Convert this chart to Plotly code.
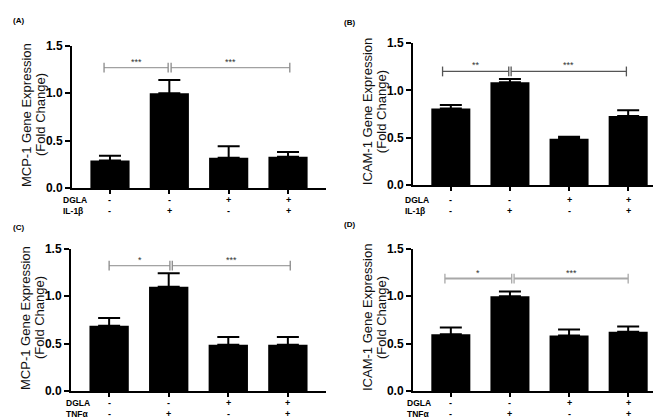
import plotly.graph_objects as go

W, H = 661, 418

# ---------------- data ----------------
positions = [0, 1, 2, 3]
dgla = ["-", "-", "+", "+"]
il1b = ["-", "+", "-", "+"]
tnfa = ["-", "+", "-", "+"]

a_mean = [0.29, 1.00, 0.32, 0.33]
a_err = [0.05, 0.14, 0.12, 0.05]
b_mean = [0.81, 1.085, 0.49, 0.73]
b_err = [0.035, 0.035, 0.02, 0.06]
c_mean = [0.69, 1.10, 0.49, 0.49]
c_err = [0.08, 0.14, 0.08, 0.08]
d_mean = [0.60, 1.00, 0.585, 0.625]
d_err = [0.07, 0.05, 0.065, 0.055]

y_ticks = [0, 0.5, 1.0, 1.5]
y_tick_labels = ["0.0", "0.5", "1.0", "1.5"]

# significance brackets: (y, left segment, right segment, left stars, right stars)
a_sig = (1.27, (-0.1, 0.98), (1.03, 3.03), "***", "***")
b_sig = (1.20, (-0.14, 0.98), (1.02, 2.97), "**", "***")
c_sig = (1.32, (0.0, 1.02), (1.06, 3.04), "*", "***")
d_sig = (1.185, (-0.1, 1.03), (1.07, 3.0), "*", "***")

panels = [
    dict(tag="(A)", mean=a_mean, err=a_err, sig=a_sig, gene="MCP-1", stim="IL-1β", second=il1b,
         ax_x=(64, 318), ax_y=(179, 32), lab=(3, 6), rows=(191, 203), rowx=53,
         sigcol="#8a8a8a", sigw=1),
    dict(tag="(B)", mean=b_mean, err=b_err, sig=b_sig, gene="ICAM-1", stim="IL-1β", second=il1b,
         ax_x=(405, 658), ax_y=(176, 29), lab=(334, 8), rows=(191, 203), rowx=395,
         sigcol="#555555", sigw=1.2),
    dict(tag="(C)", mean=c_mean, err=c_err, sig=c_sig, gene="MCP-1", stim="TNFα", second=tnfa,
         ax_x=(63, 318), ax_y=(389.3, 241.7), lab=(3, 220), rows=(401.7, 412.7), rowx=56,
         sigcol="#8a8a8a", sigw=1),
    dict(tag="(D)", mean=d_mean, err=d_err, sig=d_sig, gene="ICAM-1", stim="TNFα", second=tnfa,
         ax_x=(405, 658), ax_y=(389.3, 241.7), lab=(334, 217), rows=(401.7, 413), rowx=397,
         sigcol="#a8a8a8", sigw=2),
]

FONT = "Liberation Sans, Arial, sans-serif"

fig = go.Figure()
layout = dict(
    width=W, height=H, margin=dict(l=0, r=0, t=0, b=0),
    paper_bgcolor="white", plot_bgcolor="white", showlegend=False,
    font=dict(family=FONT, color="black"),
)
annotations = []

for i, p in enumerate(panels, start=1):
    xa = "x" if i == 1 else f"x{i}"
    ya = "y" if i == 1 else f"y{i}"
    xkey = "xaxis" if i == 1 else f"xaxis{i}"
    ykey = "yaxis" if i == 1 else f"yaxis{i}"
    x0, x1 = p["ax_x"]
    yb, yt = p["ax_y"]

    layout[xkey] = dict(
        domain=[x0 / W, x1 / W], range=[-0.64, 3.64], anchor=ya,
        tickmode="array", tickvals=positions, showticklabels=False,
        showline=True, linecolor="black", linewidth=2,
        ticks="outside", ticklen=4, tickwidth=1.5, tickcolor="black",
        showgrid=False, zeroline=False, fixedrange=True,
    )
    layout[ykey] = dict(
        domain=[1 - yb / H, 1 - yt / H], range=[0, 1.5], anchor=xa,
        tickmode="array", tickvals=y_ticks, ticktext=y_tick_labels,
        showline=True, linecolor="black", linewidth=2,
        ticks="outside", ticklen=5, tickwidth=2, tickcolor="black",
        tickfont=dict(size=12, family=FONT, color="black", weight="bold"),
        showgrid=False, zeroline=False, fixedrange=True,
    )

    fig.add_trace(go.Bar(
        x=positions, y=p["mean"], width=0.66, xaxis=xa, yaxis=ya,
        marker=dict(color="black", line=dict(width=0)),
        error_y=dict(type="data", symmetric=False, array=p["err"],
                     arrayminus=[0] * 4, color="black", thickness=2, width=11),
    ))

    sy, seg1, seg2, st1, st2 = p["sig"]
    fig.add_trace(go.Scatter(
        x=[seg1[0], seg1[1], None, seg2[0], seg2[1]], y=[sy, sy, None, sy, sy],
        xaxis=xa, yaxis=ya, mode="lines+markers", cliponaxis=False,
        line=dict(color=p["sigcol"], width=p["sigw"]),
        marker=dict(symbol="line-ns", size=7, color=p["sigcol"],
                    line=dict(color=p["sigcol"], width=1.3)),
        hoverinfo="skip",
    ))
    for seg, st in ((seg1, st1), (seg2, st2)):
        annotations.append(dict(
            x=(seg[0] + seg[1]) / 2, y=sy, xref=xa, yref=ya, text=st,
            showarrow=False, yanchor="bottom", yshift=-1,
            font=dict(size=9, family=FONT, color="#333333"),
        ))

    # +/- treatment rows under each bar (placed on the x axis scale)
    for ry, signs in zip(p["rows"], (dgla, p["second"])):
        for xv, s in zip(positions, signs):
            annotations.append(dict(
                x=xv, y=1 - ry / H, xref=xa, yref="paper", text=s,
                showarrow=False, xanchor="center", yanchor="middle",
                font=dict(size=9, family=FONT, color="black", weight="bold"),
            ))

    # panel tag
    annotations.append(dict(
        x=p["lab"][0] / W, y=1 - p["lab"][1] / H, xref="paper", yref="paper",
        text=p["tag"], showarrow=False, xanchor="left", yanchor="middle",
        font=dict(size=8, family=FONT, color="black", weight="bold"),
    ))
    # y axis title (two lines)
    yc = 1 - ((yb + yt) / 2 - 2) / H
    for off, txt in ((46, f"{p['gene']} Gene Expression"), (32, "(Fold Change)")):
        annotations.append(dict(
            x=(x0 - off) / W, y=yc, xref="paper", yref="paper", text=txt,
            textangle=-90, showarrow=False, xanchor="center", yanchor="middle",
            font=dict(size=13, family=FONT, color="#111111"),
        ))
    # row labels
    for ry, txt in zip(p["rows"], ("DGLA", p["stim"])):
        annotations.append(dict(
            x=p["rowx"] / W, y=1 - ry / H, xref="paper", yref="paper", text=txt,
            showarrow=False, xanchor="left", yanchor="middle",
            font=dict(size=8.5, family=FONT, color="black", weight="bold"),
        ))

layout["annotations"] = annotations
fig.update_layout(**layout)
fig.write_html("out.html")
